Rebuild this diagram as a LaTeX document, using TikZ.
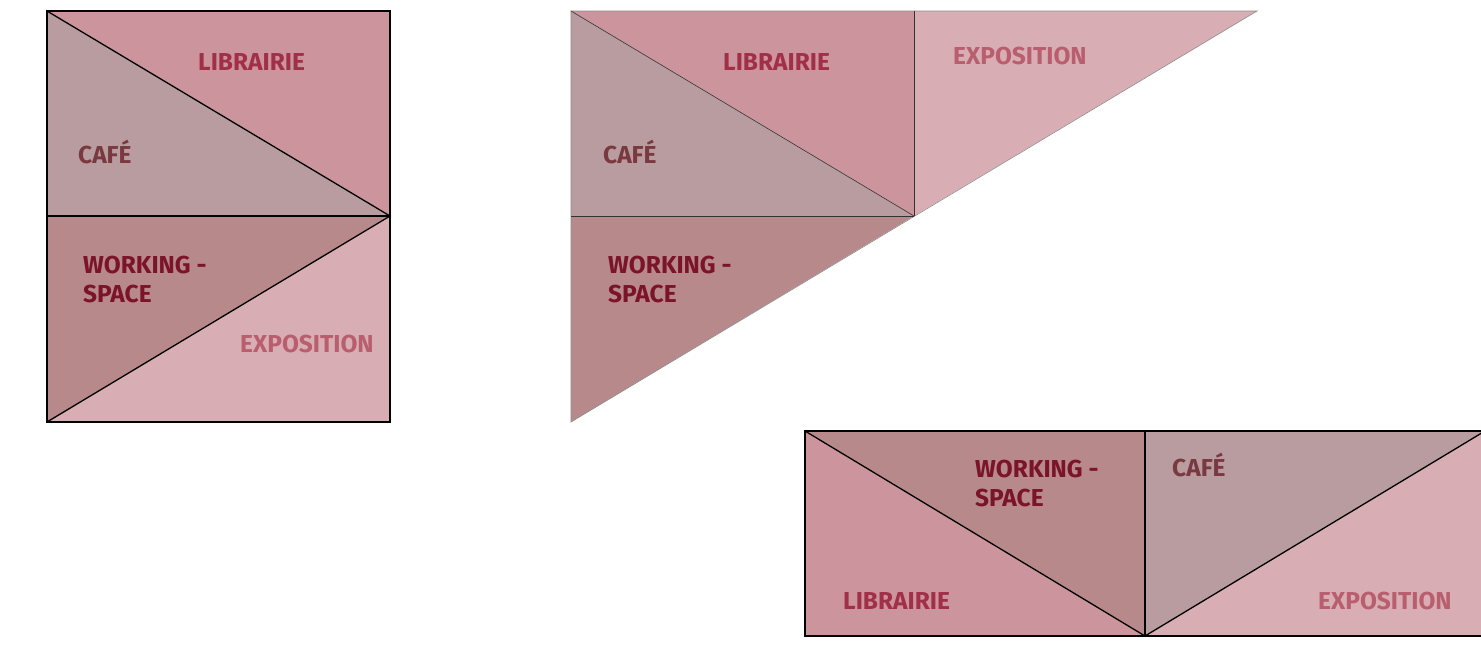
\documentclass[tikz,border=0pt]{standalone}
\usepackage{fontspec}
\setmainfont{Fira Sans}
\definecolor{libF}{HTML}{CC959D}
\definecolor{cafF}{HTML}{B89C9F}
\definecolor{wrkF}{HTML}{B8898B}
\definecolor{expF}{HTML}{D8AEB4}
\definecolor{libT}{HTML}{A22F48}
\definecolor{cafT}{HTML}{7A3840}
\definecolor{wrkT}{HTML}{7A1426}
\definecolor{expT}{HTML}{B85E6E}
\begin{document}
\begin{tikzpicture}[x=1pt,y=-1pt,
  room/.style={line width=1.3pt, draw=black, line join=miter},
  thinroom/.style={line width=0.6pt, draw=black!45},
  tag/.style={anchor=base west, inner sep=0pt, font=\bfseries\fontsize{24.5}{29}\selectfont}]
\useasboundingbox (0,0) rectangle (1481,646);
% ---------- diagram 1 ----------
\fill[libF] (47,11) -- (390,11) -- (390,216) -- cycle;
\fill[cafF] (47,11) -- (47,216) -- (390,216) -- cycle;
\fill[wrkF] (47,216) -- (390,216) -- (47,422) -- cycle;
\fill[expF] (390,216) -- (390,422) -- (47,422) -- cycle;
\draw[room] (47,11) rectangle (390,422);
\draw[room] (47,216) -- (390,216);
\draw[room] (47,11) -- (390,216) -- (47,422);
\node[tag, text=libT] (l1) at (198,70) {LIBRAIRIE};
\node[tag, text=cafT] (c1) at (78,163) {CAFÉ};
\node[tag, text=wrkT] (w1a) at (83,273) {WORKING -};
\node[tag, text=wrkT] (w1b) at (83,302) {SPACE};
\node[tag, text=expT] (e1) at (240,352) {EXPOSITION};
% ---------- diagram 2 ----------
\fill[libF] (571,11) -- (914,11) -- (914,216) -- cycle;
\fill[cafF] (571,11) -- (571,216) -- (914,216) -- cycle;
\fill[expF] (914,11) -- (1257,11) -- (914,216) -- cycle;
\fill[wrkF] (571,216) -- (914,216) -- (571,422) -- cycle;
\draw[thinroom] (571,11) -- (1257,11) -- (571,422) -- cycle;
\draw[thinroom, draw=black!80] (571,216) -- (914,216);
\draw[thinroom, draw=black!80] (914,11) -- (914,216);
\draw[thinroom, draw=black!80] (571,11) -- (914,216);
\node[tag, text=libT] (l2) at (723,70) {LIBRAIRIE};
\node[tag, text=expT] (e2) at (953,64) {EXPOSITION};
\node[tag, text=cafT] (c2) at (603,163) {CAFÉ};
\node[tag, text=wrkT] (w2a) at (608,273) {WORKING -};
\node[tag, text=wrkT] (w2b) at (608,302) {SPACE};
% ---------- diagram 3 ----------
\fill[libF] (805,431) -- (1145,636) -- (805,636) -- cycle;
\fill[wrkF] (805,431) -- (1145,431) -- (1145,636) -- cycle;
\fill[cafF] (1145,431) -- (1485,431) -- (1145,636) -- cycle;
\fill[expF] (1485,431) -- (1485,636) -- (1145,636) -- cycle;
\draw[room] (805,431) rectangle (1485,636);
\draw[room] (1145,431) -- (1145,636);
\draw[room] (805,431) -- (1145,636) -- (1485,431);
\node[tag, text=wrkT] (w3a) at (975,477) {WORKING -};
\node[tag, text=wrkT] (w3b) at (975,506) {SPACE};
\node[tag, text=cafT] (c3) at (1172,476) {CAFÉ};
\node[tag, text=libT] (l3) at (843,609) {LIBRAIRIE};
\node[tag, text=expT] (e3) at (1318,609) {EXPOSITION};
\end{tikzpicture}
\end{document}
